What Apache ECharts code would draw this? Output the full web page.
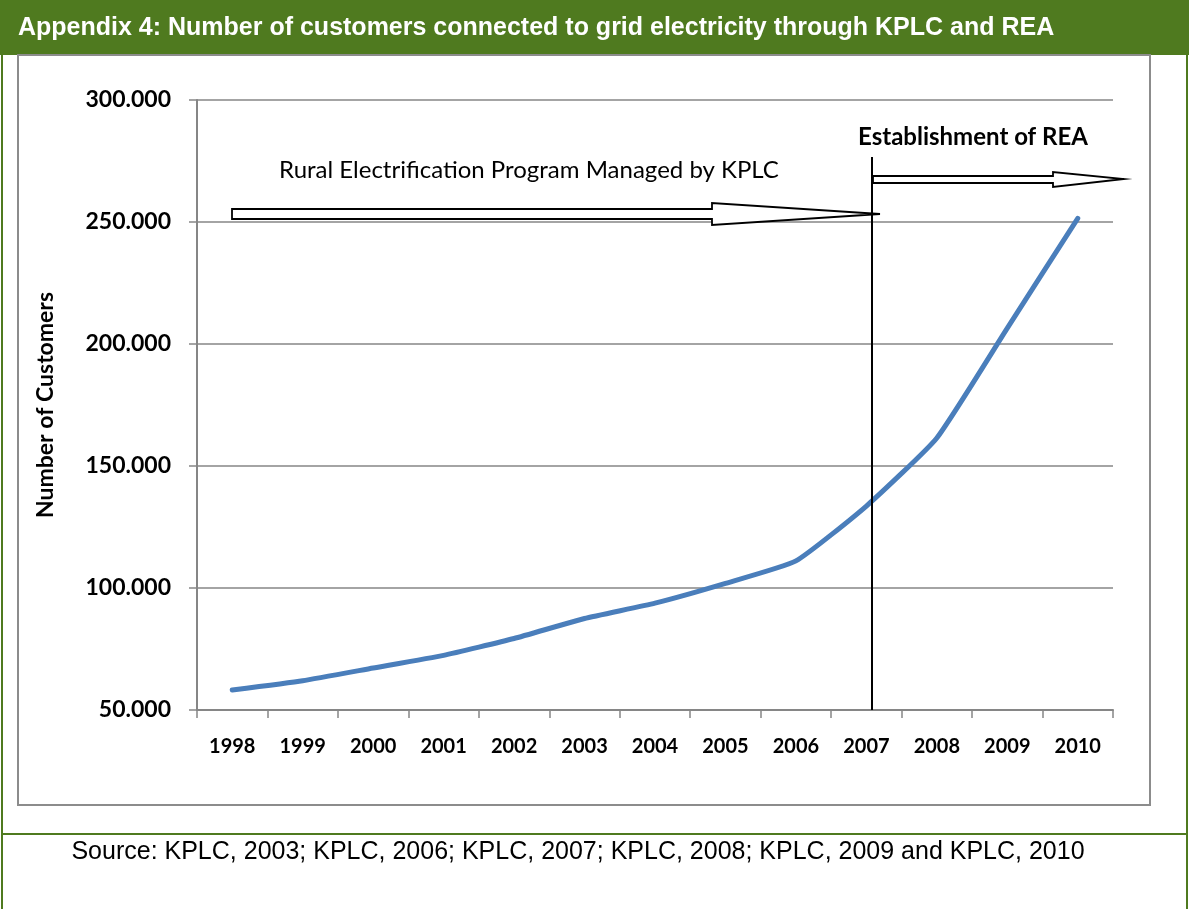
<!DOCTYPE html>
<html>
<head>
<meta charset="utf-8">
<script src="https://cdn.jsdelivr.net/npm/echarts@6/dist/echarts.min.js"></script>
<style>
html,body{margin:0;padding:0;background:#fff;}
#chart{width:1189px;height:909px;}
</style>
</head>
<body>
<div id="chart"></div>
<script>
var years = ['1998','1999','2000','2001','2002','2003','2004','2005','2006','2007','2008','2009','2010'];
var customers = [58200, 62000, 67200, 72400, 79300, 87500, 93800, 101900, 111100, 133600, 161500, 206500, 251500];
var yMin = 50000, yMax = 300000, yStep = 50000;
var titleText = 'Appendix 4: Number of customers connected to grid electricity through KPLC and REA';
var sourceText = 'Source: KPLC, 2003; KPLC, 2006; KPLC, 2007; KPLC, 2008; KPLC, 2009 and KPLC, 2010';
var yAxisName = 'Number of Customers';
var kplcNote = 'Rural Electrification Program Managed by KPLC';
var reaNote = 'Establishment of REA';

var green = '#4f7a1f';
var gray = '#868686';
var calibri = 'Lato, "Open Sans", sans-serif';
var arial = '"Liberation Sans", Arial, sans-serif';

var chart = echarts.init(document.getElementById('chart'));
chart.setOption({
  animation: false,
  backgroundColor: '#fff',
  grid: {left: 197, top: 100, right: 76, bottom: 199, containLabel: false},
  xAxis: {
    type: 'category',
    data: years,
    boundaryGap: true,
    axisLine: {lineStyle: {color: gray, width: 2}},
    axisTick: {show: true, length: 8, lineStyle: {color: gray, width: 1.5}},
    axisLabel: {color: '#000', fontFamily: calibri, fontWeight: 'bold', fontSize: 20, margin: 27}
  },
  yAxis: {
    type: 'value',
    min: yMin, max: yMax, interval: yStep,
    name: yAxisName,
    nameLocation: 'middle',
    nameGap: 140,
    nameRotate: 90,
    nameTextStyle: {color: '#000', fontFamily: calibri, fontWeight: 'bold', fontSize: 23},
    axisLine: {show: true, lineStyle: {color: gray, width: 2}},
    axisTick: {show: true, length: 8, lineStyle: {color: gray, width: 1.5}},
    splitLine: {show: true, lineStyle: {color: gray, width: 1.5}},
    axisLabel: {
      color: '#000', fontFamily: calibri, fontWeight: 'bold', fontSize: 23, margin: 26,
      formatter: function (v) { return v.toLocaleString('en-US').replace(/,/g, '.'); }
    }
  },
  series: [{
    type: 'line',
    data: customers,
    symbol: 'none',
    smooth: 0.15,
    lineStyle: {color: '#4a7ebb', width: 5, cap: 'round'},
    z: 5
  }],
  graphic: [
    {type: 'rect', shape: {x: 0, y: 0, width: 1189, height: 55}, style: {fill: green}, z: 1},
    {type: 'text', x: 18, y: 28, style: {text: titleText, fill: '#fff', font: 'bold 25px ' + arial, textVerticalAlign: 'middle'}, z: 2},
    {type: 'rect', shape: {x: 18, y: 55, width: 1132, height: 750}, style: {fill: 'none', stroke: '#8c8c8c', lineWidth: 2}, z: 1},
    {type: 'line', shape: {x1: 2, y1: 55, x2: 2, y2: 909}, style: {stroke: green, lineWidth: 2}, z: 1},
    {type: 'line', shape: {x1: 1187, y1: 55, x2: 1187, y2: 909}, style: {stroke: green, lineWidth: 2}, z: 1},
    {type: 'line', shape: {x1: 2, y1: 834, x2: 1187, y2: 834}, style: {stroke: green, lineWidth: 2}, z: 1},
    {type: 'text', x: 578, y: 852, style: {text: sourceText, fill: '#000', font: '25px ' + arial, textAlign: 'center', textVerticalAlign: 'middle'}, z: 2},
    {type: 'line', shape: {x1: 872, y1: 157, x2: 872, y2: 710}, style: {stroke: '#000', lineWidth: 2}, z: 6},
    {type: 'polygon', shape: {points: [[232,209],[712,209],[712,203],[880,214],[712,225],[712,219],[232,219]]}, style: {fill: '#fff', stroke: '#000', lineWidth: 1.8}, z: 6},
    {type: 'polygon', shape: {points: [[873,176],[1053,176],[1053,172],[1124,179],[1053,187],[1053,183],[873,183]]}, style: {fill: '#fff', stroke: '#000', lineWidth: 1.8}, z: 6},
    {type: 'text', x: 529, y: 170, style: {text: kplcNote, fill: '#000', font: '24px ' + calibri, textAlign: 'center', textVerticalAlign: 'middle'}, z: 6},
    {type: 'text', x: 973, y: 137, style: {text: reaNote, fill: '#000', font: 'bold 24px ' + calibri, textAlign: 'center', textVerticalAlign: 'middle'}, z: 6}
  ]
});
</script>
</body>
</html>
